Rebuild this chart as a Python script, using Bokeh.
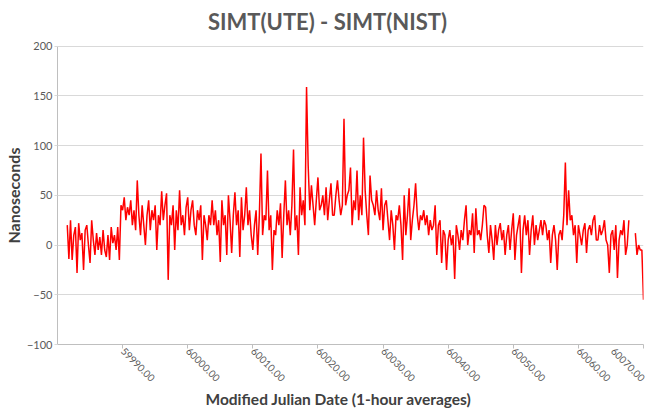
import numpy as np
from bokeh.plotting import figure
from bokeh.models import FixedTicker, Range1d, ColumnDataSource, PrintfTickFormatter, Label, Title
from bokeh.embed import file_html
from bokeh.resources import INLINE

nan = float("nan")

start_mjd = 59981.5
step_days = 0.25
offset_ns = [
    20, -14,
    25, -15, 10, 18,    # 59982
    -28, 22, 5, 12,
    -25, 15, 20, 0,
    -18, 25, 5, -10,
    12, -5, 8, -10,
    15, -5, -12, 10,
    -15, 18, 2, 10,
    -5, 18, -15, 40,    # 59989
    35, 48, 25, 38,     # 59990
    30, 45, 20, 35,
    15, 65, 30, 10,
    40, 20, 0, 30,
    45, 15, 35, 25,
    40, -5, 30, 20,
    54, 25, 40, 52,
    -35, 30, 20, 40,
    -5, 35, 15, 55,
    20, 30, 10, 38,     # 59999
    48, 15, 35, 45,     # 60000
    20, 10, 35, 25,
    40, -15, 30, 20,
    5, 30, 20, 45,
    20, 35, 10, 25,
    -17, 45, 20, 30,
    -10, 50, 25, -8,
    30, 53, 20, 35,
    -12, 48, 15, 30,
    58, 20, 35, 10,     # 60009
    -5, 20, 35, -10,    # 60010
    30, 92, 10, 30,
    25, 75, 15, 30,
    -25, 15, 10, 35,
    20, 42, -13, 30,
    65, 20, 35, 10,
    40, 96, 15, 30,
    -10, 58, 30, 45,
    20, 159, 80, 35,
    60, 40, 20, 45,     # 60019
    68, 35, 40, 50,     # 60020
    30, 58, 25, 45,
    62, 30, 30, 50,
    65, 45, 30, 40,
    127, 40, 50, 55,
    78, 20, 45, 35,
    75, 25, 50, 30,
    108, 55, 30, 10,
    70, 45, 40, 30,
    55, 35, 25, 57,     # 60029
    15, 40, 45, 25,     # 60030
    5, 35, 20, -5,
    30, 25, 40, 20,
    -15, 50, 10, 30,
    57, 5, 25, 40,
    62, 30, 15, 30,
    25, 35, 20, 30,
    10, 25, 15, 20,
    40, -10, 20, 25,
    -18, 15, 10, -25,   # 60039
    5, 15, 0, 10,       # 60040
    -34, 20, 10, -5,
    15, 5, 25, 40,
    0, 15, 10, 32,
    -8, 37, 10, 15,
    5, 20, 40, 38,
    10, -8, 20, 5,
    -15, 20, 0, 15,
    22, 5, 15, -10,
    10, 20, -5, 15,     # 60049
    32, -15, 10, 20,    # 60050
    30, -28, 15, 30,
    10, 25, -10, 15,
    30, 0, 20, 5,
    15, 25, 10, 25,
    20, 5, 15, -18,
    10, 20, 5, -25,
    10, 15, 5, 30,
    83, 20, 55, 25,
    30, 10, 20, -18,    # 60059
    20, 10, 0, 15,      # 60060
    22, -8, 15, 20,
    10, 25, 30, 5,
    5, 20, 10, 15,
    25, 5, 0, -28,
    10, 15, -5, 20,
    -33, 5, 15, 10,
    25, -10, 0, 25,
    nan, nan, nan, 12,
    -10, 0, -5, -5,     # 60069
    -55,                # 60070
]

x_ticks = [59990, 60000, 60010, 60020, 60030, 60040, 60050, 60060, 60070]
y_ticks = [-100, -50, 0, 50, 100, 150, 200]

mjd = start_mjd + step_days * np.arange(len(offset_ns))
src = ColumnDataSource(dict(mjd=mjd, ns=np.array(offset_ns, dtype=float)))

FONT = "Lato"
# frame reaches the top edge of the page so the chart title can sit inside it;
# the visible axis stops at 200 via axis bounds.
p = figure(width=645, height=408, output_backend="svg", toolbar_location=None,
           x_range=Range1d(59980, 60070), y_range=Range1d(-100, 245.9),
           min_border_left=57, min_border_right=2, min_border_top=0, min_border_bottom=64,
           background_fill_color="white", border_fill_color="white")
p.outline_line_color = None
p.title.text = ""

p.line("mjd", "ns", source=src, line_color="#ff0000", line_width=1.5)

title = Label(text="SIMT(UTE) - SIMT(NIST)", x=270, y=323, x_units="screen", y_units="screen",
              text_align="center", text_baseline="middle", text_font=FONT,
              text_font_size="22px", text_font_style="bold", text_color="#595959")
p.add_layout(title)

xlabel = Title(text="Modified Julian Date (1-hour averages)", align="left", offset=148,
               standoff=0, text_font=FONT, text_font_size="15.5px", text_font_style="bold",
               text_color="#404040")
p.add_layout(xlabel, "below")

ylabel = Title(text="Nanoseconds", align="left", offset=101, standoff=2,
               text_font=FONT, text_font_size="16px", text_font_style="bold",
               text_color="#404040")
p.add_layout(ylabel, "left")

p.xgrid.visible = False
p.ygrid.ticker = FixedTicker(ticks=y_ticks)
p.ygrid.grid_line_color = "#d9d9d9"
p.ygrid.grid_line_width = 1

xa = p.xaxis[0]
xa.ticker = FixedTicker(ticks=x_ticks)
xa.formatter = PrintfTickFormatter(format="%.2f")
xa.major_label_orientation = -np.pi / 4
xa.axis_line_color = "#bfbfbf"
xa.major_tick_line_color = "#bfbfbf"
xa.major_tick_out = 4
xa.major_tick_in = 0
xa.minor_tick_line_color = None
xa.major_label_text_font = FONT
xa.major_label_text_font_size = "10px"
xa.major_label_text_color = "#595959"
xa.major_label_standoff = 1

ya = p.yaxis[0]
ya.ticker = FixedTicker(ticks=y_ticks)
ya.bounds = (-100, 200)
ya.axis_line_color = "#bfbfbf"
ya.major_tick_line_color = "#d9d9d9"
ya.major_tick_out = 3
ya.major_tick_in = 0
ya.minor_tick_line_color = None
ya.major_label_text_font = FONT
ya.major_label_text_font_size = "11px"
ya.major_label_text_color = "#595959"
ya.major_label_standoff = 2

with open("out.html", "w") as f:
    f.write(file_html(p, INLINE))
